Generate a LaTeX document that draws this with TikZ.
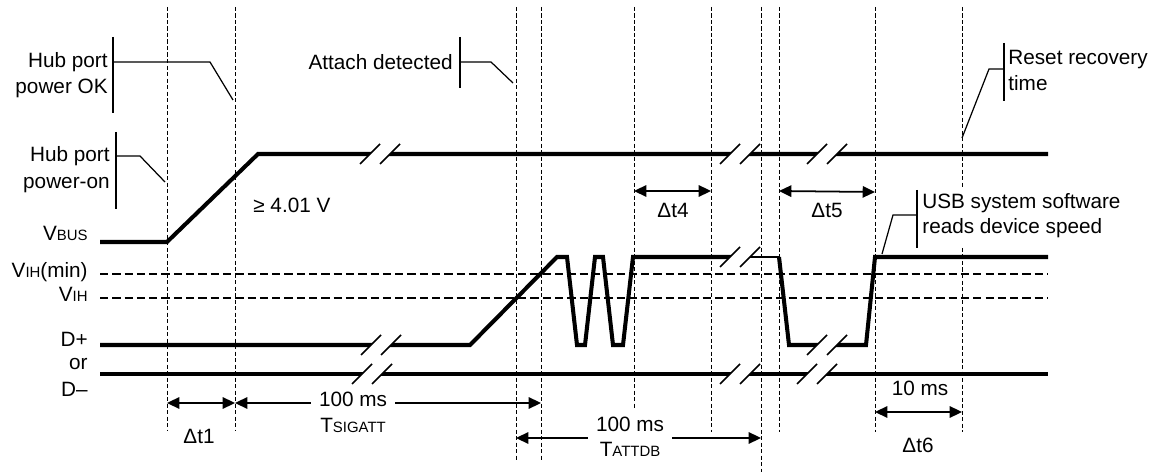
\documentclass[tikz,border=0pt]{standalone}
\usepackage{fontspec}
\setmainfont{Liberation Sans}
\usetikzlibrary{arrows.meta}

\newcommand{\subcap}[1]{{\fontsize{8.5}{10}\selectfont #1}}

\tikzset{
  wavebreak/.pic={
    \fill[white] (-13,3) -- (-7,-3) -- (13,-3) -- (7,3) -- cycle;
    \draw[line width=0.9pt] (-20,10) -- (0,-10) (0,10) -- (20,-10);
  }
}

\begin{document}
\begin{tikzpicture}[x=0.02cm, y=-0.02cm,
    font=\fontsize{11.8}{15}\selectfont,
    wave/.style={line width=2.3pt},
    marker/.style={line width=0.5pt, dash pattern=on 2.5pt off 1.2pt},
    level/.style={line width=0.7pt, dash pattern=on 4.7pt off 2.3pt},
    span/.style={line width=1pt, {Triangle[length=7pt,width=6.5pt]}-{Triangle[length=7pt,width=6.5pt]}},
    callout/.style={line width=0.7pt},
    tag/.style={inner sep=0pt, anchor=base east},
    note/.style={inner sep=0pt, anchor=base west},
    value/.style={inner sep=0pt, anchor=base},
    gaplabel/.style={fill=white, inner xsep=4.5pt, inner ysep=4pt, anchor=base}]

    \useasboundingbox (0,0) rectangle (1159,472);

    \foreach \x/\b in {167/430, 235/430, 516/460, 541/460, 634/410, 711/432, 761/472, 779/432, 875/432}
        \draw[marker] (\x,7) -- (\x,\b);
    \draw[marker] (962,7) -- (962,188) (962,248) -- (962,432);

    \draw[level] (100,274) -- (1048,274);
    \draw[level] (100,298) -- (1048,298);

    \draw[wave] (100,242) -- (167,242) -- (258,154) -- (1048,154);
    \draw[wave] (100,345) -- (470,345) -- (557,257) -- (567,257) -- (577,345) -- (585,345)
        -- (595,257) -- (603,257) -- (613,345) -- (623,345) -- (633,257) -- (740,257);
    \draw[line width=1pt] (740,257) -- (779,257);
    \draw[wave] (779,257) -- (789,345) -- (866,345) -- (875,257) -- (1048,257);
    \draw[wave] (100,374) -- (1048,374);

    \pic at (380,154) {wavebreak};
    \pic at (740,154) {wavebreak};
    \pic at (827,154) {wavebreak};
    \pic at (381,345) {wavebreak};
    \pic at (740,257) {wavebreak};
    \pic at (827,345) {wavebreak};
    \pic at (372,374) {wavebreak};
    \pic at (740,374) {wavebreak};
    \pic at (817,374) {wavebreak};

    \node (vbusTag) [tag] at (88,241) {V\subcap{BUS}};
    \node (vihminTag) [tag] at (88,278) {V\subcap{IH}(min)};
    \node (vihTag) [tag] at (88,302) {V\subcap{IH}};
    \node (dplusTag) [tag] at (88,347) {D+};
    \node (orTag) [tag] at (88,370) {or};
    \node (dminusTag) [tag] at (88,397) {D–};
    \node (voltTag) [note] at (253,213) {≥ 4.01 V};

    \node (okTag) [tag] at (108,68) {Hub port};
    \node (okTagB) [tag] at (108,94) {power OK};
    \draw[callout] (113,37) -- (113,113);
    \draw[callout] (113,62) -- (210,62) -- (233,100);

    \node (onTag) [tag] at (110,162) {Hub port};
    \node (onTagB) [tag] at (110,189) {power-on};
    \draw[callout] (116,132) -- (116,209);
    \draw[callout] (116,156) -- (140,156) -- (165,182);

    \node (attachTag) [tag] at (453,70) {Attach detected};
    \draw[callout] (460,37) -- (460,88);
    \draw[callout] (460,62) -- (491,62) -- (513,83);

    \node (resetTag) [note] at (1008,65) {Reset recovery};
    \node (resetTagB) [note] at (1008,91) {time};
    \draw[callout] (1004,43) -- (1004,101);
    \draw[callout] (1004,69) -- (989,69) -- (962,138);

    \node (usbTag) [note] at (922,209) {USB system software};
    \node (usbTagB) [note] at (922,234) {reads device speed};
    \draw[callout] (917,190) -- (917,248);
    \draw[callout] (917,215) -- (893,215) -- (882,254);

    \draw[span] (167,403) -- (235,403);
    \node (dt1Tag) [value] at (199,443) {Δt1};
    \draw[span] (235,403) -- (541,403);
    \node (sigattTag) [gaplabel] at (353,407) {100 ms};
    \node (sigattTagB) [value] at (353,433) {T\subcap{SIGATT}};
    \draw[span] (516,438) -- (761,438);
    \node (attdbTag) [gaplabel] at (630,432) {100 ms};
    \node (attdbTagB) [gaplabel] at (630,457) {T\subcap{ATTDB}};

    \draw[span] (634,191) -- (711,191);
    \node (dt4Tag) [value] at (673,218) {Δt4};
    \draw[span] (779,191) -- (875,192);
    \node (dt5Tag) [value] at (827,218) {Δt5};
    \draw[span] (875,412) -- (962,412);
    \node (tenTag) [value] at (920,396) {10 ms};
    \node (dt6Tag) [value] at (918,453) {Δt6};
\end{tikzpicture}
\end{document}
